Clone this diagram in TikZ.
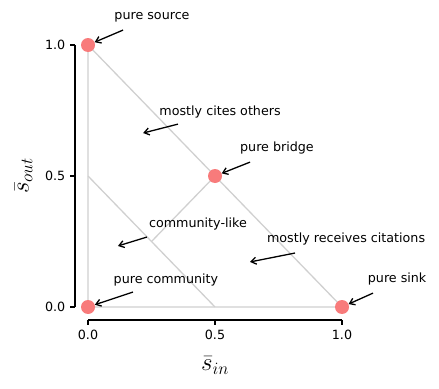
\documentclass[tikz,border=0pt]{standalone}
\usepackage{fontspec}
\setmainfont{DejaVu Sans}
\usetikzlibrary{arrows.meta}
\definecolor{dotred}{HTML}{F87B7B}
\definecolor{guidegray}{HTML}{D0D0D0}
\tikzset{
note/.style={font=\fontsize{12.7}{15}\selectfont,inner sep=0pt,text=black},
ticklab/.style={font=\fontsize{12.7}{15}\selectfont,inner sep=0pt},
axlab/.style={font=\fontsize{23}{26}\selectfont,inner sep=0pt},
guide/.style={draw=guidegray,line width=1.3pt},
spine/.style={draw=black,line width=1.4pt},
spot/.style={circle,fill=dotred,inner sep=0pt,minimum size=14pt},
arr/.style={-{Straight Barb[length=5pt,width=7pt]},line width=1.3pt}}

\begin{document}
\begin{tikzpicture}[x=254pt,y=262pt]
\useasboundingbox (-0.3465,-0.3092) rectangle (1.3819,1.1718);
\coordinate (o) at (0,0);
\coordinate (top) at (0,1);
\coordinate (right) at (1,0);
\coordinate (midl) at (0,0.5);
\coordinate (midb) at (0.5,0);
\coordinate (mid) at (0.5,0.5);
\coordinate (quarter) at (0.25,0.25);
\draw[guide] (o)--(right)--(top)--cycle;
\draw[guide] (midl)--(midb);
\draw[guide] (mid)--(quarter);
\node[spot] (source) at (top) {};
\node[spot] (bridge) at (mid) {};
\node[spot] (sink) at (right) {};
\node[spot] (comm) at (o) {};
\draw[spine] (-0.0512,0)--(-0.0512,1);
\draw[spine] (0,-0.0496)--(1,-0.0496);
\foreach \v in {0.0,0.5,1.0}{
\draw[spine] (-0.0512,\v)--++(-5pt,0) node[ticklab,anchor=east,xshift=-4pt] {\v};
\draw[spine] (\v,-0.0496)--++(0,-5pt) node[ticklab,anchor=north,yshift=-4pt] {\v};
}
\node[axlab] (xlab) at (0.5,-0.223) {$\bar{s}_{in}$};
\node[axlab,rotate=90] (ylab) at (-0.254,0.5) {$\bar{s}_{out}$};
\node[note] (srcnote) at (0.252,1.107) {pure source};
\node[note] (citenote) at (0.520,0.744) {mostly cites others};
\node[note] (bridgenote) at (0.744,0.607) {pure bridge};
\node[note] (recvnote) at (1.016,0.260) {mostly receives citations};
\node[note] (sinknote) at (1.217,0.107) {pure sink};
\node[note] (likenote) at (0.433,0.317) {community-like};
\node[note] (commnote) at (0.307,0.103) {pure community};
\coordinate (srctail) at (0.138,1.057);
\coordinate (citetail) at (0.354,0.698);
\coordinate (citehead) at (0.217,0.664);
\coordinate (bridgetail) at (0.638,0.553);
\coordinate (recvtail) at (0.815,0.206);
\coordinate (recvhead) at (0.638,0.172);
\coordinate (sinktail) at (1.122,0.053);
\coordinate (liketail) at (0.232,0.267);
\coordinate (likehead) at (0.118,0.233);
\coordinate (commtail) at (0.177,0.057);
\draw[arr] (srctail)--(source);
\draw[arr] (citetail)--(citehead);
\draw[arr] (bridgetail)--(bridge);
\draw[arr] (recvtail)--(recvhead);
\draw[arr] (sinktail)--(sink);
\draw[arr] (liketail)--(likehead);
\draw[arr] (commtail)--(comm);
\end{tikzpicture}
\end{document}
